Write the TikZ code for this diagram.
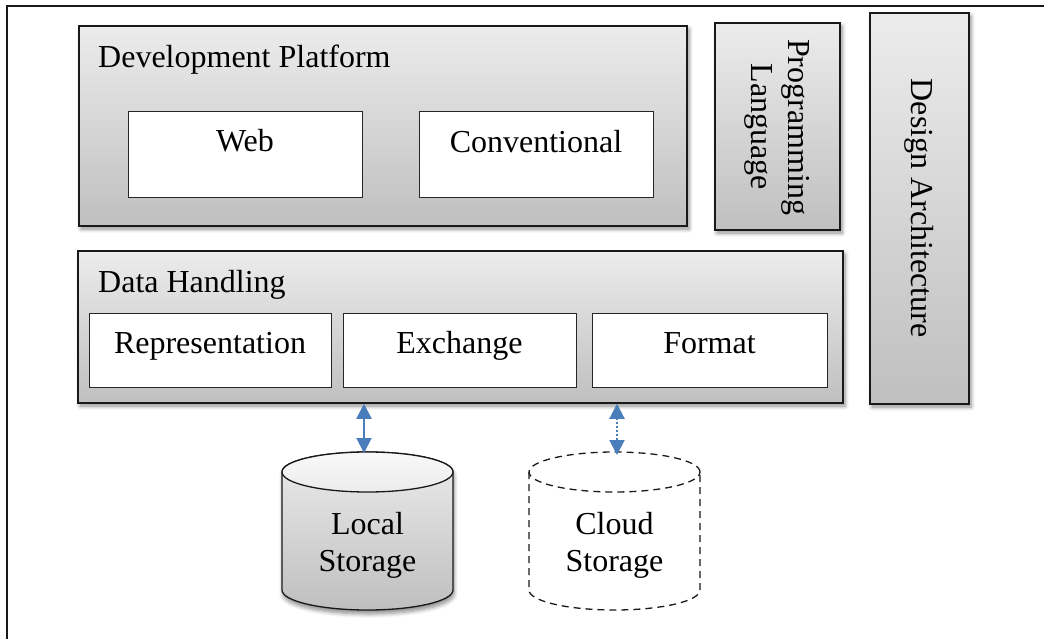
\documentclass[tikz,border=0pt]{standalone}
\usepackage{fontspec}
\setmainfont{Liberation Serif}
\usetikzlibrary{arrows.meta,shadows.blur}
\definecolor{arrowblue}{RGB}{74,126,187}
\tikzset{
  panel/.style={draw=black!90, line width=1.5pt, top color=gray!15, bottom color=gray!50,
    blur shadow={shadow xshift=2pt, shadow yshift=-3pt, shadow blur radius=4pt, shadow blur steps=6, shadow opacity=45},
    inner sep=0pt, rectangle},
  inbox/.style={draw=black!85, line width=1pt, fill=white, inner sep=0pt, rectangle},
  lbl/.style={inner sep=0pt, font=\fontsize{32}{37}\selectfont},
  dblarrow/.style={arrowblue, line width=2pt, {Triangle[width=15pt,length=15pt]}-{Triangle[width=15pt,length=15pt]}, shorten <=0pt, shorten >=0pt},
}
\begin{document}
\begin{tikzpicture}[x=1pt,y=-1pt]
\useasboundingbox (0,0) rectangle (1044,639);
% outer frame
\draw[line width=1.5pt, black!90] (7,639) -- (7,6) -- (1044,6);

% Development Platform
\node[panel, minimum width=608pt, minimum height=200pt] (dev) at (383,126) {};
\node[lbl, anchor=base west] (devt) at (98,68) {Development Platform};
\node[inbox, minimum width=234pt, minimum height=86pt] (web) at (245,155) {};
\node[lbl, anchor=base] (webt) at (245,152) {Web};
\node[inbox, minimum width=234pt, minimum height=86pt] (conv) at (536,155) {};
\node[lbl, anchor=base] (convt) at (536,153) {Conventional};

% Programming Language
\node[panel, minimum width=125pt, minimum height=207pt] (prog) at (777.5,126.5) {};
\node[lbl, rotate=-90, align=center] (progt) at (777,127) {Programming\\Language};

% Design Architecture
\node[panel, minimum width=99pt, minimum height=391pt] (design) at (919.5,208.5) {};
\node[lbl, rotate=-90] (designt) at (919.5,208) {Design Architecture};

% Data Handling
\node[panel, minimum width=765pt, minimum height=152pt] (dh) at (460.5,327) {};
\node[lbl, anchor=base west] (dht) at (98,292) {Data Handling};
\node[inbox, minimum width=242pt, minimum height=74pt] (rep) at (210,350) {};
\node[lbl, anchor=base] (rept) at (210,353) {Representation};
\node[inbox, minimum width=233pt, minimum height=74pt] (exch) at (459.5,350) {};
\node[lbl, anchor=base] (excht) at (459.5,353) {Exchange};
\node[inbox, minimum width=235pt, minimum height=74pt] (fmt) at (709.5,350) {};
\node[lbl, anchor=base] (fmtt) at (709.5,353) {Format};

% Local storage cylinder
\path[draw=black!90, line width=1.3pt, top color=gray!15, bottom color=gray!50,
    blur shadow={shadow xshift=1pt, shadow yshift=-4pt, shadow blur radius=4pt, shadow blur steps=6, shadow opacity=45}]
  (282,472) -- (282,590) arc[start angle=180, end angle=360, x radius=85.5pt, y radius=20pt]
  -- (453,472) arc[start angle=0, end angle=180, x radius=85.5pt, y radius=20pt] -- cycle;
\path[draw=black!90, line width=1.3pt, top color=gray!5, bottom color=gray!15]
  (367.5,472) ellipse[x radius=85.5pt, y radius=20pt];
\node[lbl, align=center] (loct) at (367.5,545) {Local\\Storage};
\coordinate (loctop) at (364,453);

% Cloud storage cylinder
\path[draw=black!90, line width=1.3pt, dash pattern=on 7pt off 5pt]
  (529,472) -- (529,590) arc[start angle=180, end angle=360, x radius=85.5pt, y radius=20pt]
  -- (700,472);
\path[draw=black!90, line width=1.3pt, dash pattern=on 7pt off 5pt]
  (614.5,472) ellipse[x radius=85.5pt, y radius=20pt];
\node[lbl, align=center] (cloudt) at (614.5,545) {Cloud\\Storage};
\coordinate (cloudtop) at (617,455);

% arrows
\draw[dblarrow] (dh.south -| loctop) -- (loctop);
\draw[dblarrow, dash pattern=on 2pt off 2pt] (dh.south -| cloudtop) -- (cloudtop);
\end{tikzpicture}
\end{document}
